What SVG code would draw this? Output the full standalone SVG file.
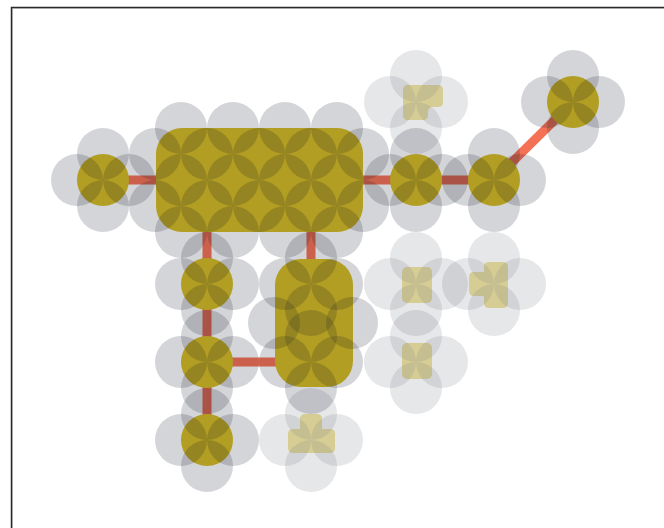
<svg xmlns="http://www.w3.org/2000/svg" width="664" height="528" viewBox="0 0 664 528">
<style>
.g{fill:#d6bc22}
.c{fill:#111827;fill-opacity:0.18}
.e{stroke:#f47155;stroke-width:9;fill:none;stroke-linecap:butt}
.faded{opacity:0.58}
.faded .g{fill-opacity:0.8}
</style>
<rect x="0" y="0" width="664" height="528" fill="#ffffff"/>
<path d="M12.5,528 V8.5 H664" fill="none" stroke="#d0d0d0" stroke-width="1"/>
<path d="M11.5,528 V7.5 H664" fill="none" stroke="#2a2a2a" stroke-width="1.5"/>
<g id="connectors">
<line class="e" x1="103" y1="180" x2="180" y2="180"/>
<line class="e" x1="337" y1="180" x2="416" y2="180"/>
<line class="e" x1="416" y1="180" x2="494" y2="180"/>
<line class="e" x1="494" y1="180" x2="573" y2="102"/>
<line class="e" x1="207" y1="206" x2="207" y2="284"/>
<line class="e" x1="311" y1="206" x2="311" y2="284"/>
<line class="e" x1="207" y1="284" x2="207" y2="362"/>
<line class="e" x1="207" y1="362" x2="207" y2="440"/>
<line class="e" x1="207" y1="362" x2="311" y2="362"/>
</g>
<g id="nodeA">
<circle class="g" cx="103" cy="180" r="26"/>
<circle class="c" cx="103" cy="154" r="26"/><circle class="c" cx="77" cy="180" r="26"/><circle class="c" cx="129" cy="180" r="26"/><circle class="c" cx="103" cy="206" r="26"/>
</g>
<g id="nodeB">
<rect class="g" x="156" y="128" width="207" height="104" rx="26"/>
<circle class="c" cx="181" cy="128" r="26"/><circle class="c" cx="233" cy="128" r="26"/><circle class="c" cx="285" cy="128" r="26"/><circle class="c" cx="337" cy="128" r="26"/>
<circle class="c" cx="155" cy="154" r="26"/><circle class="c" cx="207" cy="154" r="26"/><circle class="c" cx="259" cy="154" r="26"/><circle class="c" cx="311" cy="154" r="26"/><circle class="c" cx="363" cy="154" r="26"/>
<circle class="c" cx="181" cy="180" r="26"/><circle class="c" cx="233" cy="180" r="26"/><circle class="c" cx="285" cy="180" r="26"/><circle class="c" cx="337" cy="180" r="26"/>
<circle class="c" cx="155" cy="206" r="26"/><circle class="c" cx="207" cy="206" r="26"/><circle class="c" cx="259" cy="206" r="26"/><circle class="c" cx="311" cy="206" r="26"/><circle class="c" cx="363" cy="206" r="26"/>
<circle class="c" cx="181" cy="232" r="26"/><circle class="c" cx="233" cy="232" r="26"/><circle class="c" cx="285" cy="232" r="26"/><circle class="c" cx="337" cy="232" r="26"/>
</g>
<g id="nodeC">
<circle class="g" cx="416" cy="180" r="26"/>
<circle class="c" cx="416" cy="154" r="26"/><circle class="c" cx="390" cy="180" r="26"/><circle class="c" cx="442" cy="180" r="26"/><circle class="c" cx="416" cy="206" r="26"/>
</g>
<g id="nodeD">
<circle class="g" cx="494" cy="180" r="26"/>
<circle class="c" cx="494" cy="154" r="26"/><circle class="c" cx="468" cy="180" r="26"/><circle class="c" cx="520" cy="180" r="26"/><circle class="c" cx="494" cy="206" r="26"/>
</g>
<g id="nodeE">
<circle class="g" cx="573" cy="102" r="26"/>
<circle class="c" cx="573" cy="76" r="26"/><circle class="c" cx="547" cy="102" r="26"/><circle class="c" cx="599" cy="102" r="26"/><circle class="c" cx="573" cy="128" r="26"/>
</g>
<g id="nodeF">
<circle class="g" cx="207" cy="284" r="26"/>
<circle class="c" cx="207" cy="258" r="26"/><circle class="c" cx="181" cy="284" r="26"/><circle class="c" cx="233" cy="284" r="26"/><circle class="c" cx="207" cy="310" r="26"/>
</g>
<g id="nodeG">
<circle class="g" cx="207" cy="362" r="26"/>
<circle class="c" cx="207" cy="336" r="26"/><circle class="c" cx="181" cy="362" r="26"/><circle class="c" cx="233" cy="362" r="26"/><circle class="c" cx="207" cy="388" r="26"/>
</g>
<g id="nodeH">
<circle class="g" cx="207" cy="440" r="26"/>
<circle class="c" cx="207" cy="414" r="26"/><circle class="c" cx="181" cy="440" r="26"/><circle class="c" cx="233" cy="440" r="26"/><circle class="c" cx="207" cy="466" r="26"/>
</g>
<g id="nodeI">
<rect class="g" x="275" y="259" width="78" height="128" rx="26"/>
<circle class="c" cx="311" cy="258" r="26"/><circle class="c" cx="285" cy="284" r="26"/><circle class="c" cx="337" cy="284" r="26"/><circle class="c" cx="311" cy="310" r="26"/>
<circle class="c" cx="274" cy="323" r="26"/><circle class="c" cx="352" cy="323" r="26"/>
<circle class="c" cx="311" cy="336" r="26"/><circle class="c" cx="285" cy="362" r="26"/><circle class="c" cx="337" cy="362" r="26"/><circle class="c" cx="311" cy="388" r="26"/>
</g>
<g id="nodeJ" class="faded">
<path class="g" d="M408,85 H438 Q443,85 443,90 V102 Q443,107 438,107 H433 Q428,107 428,112 V115 Q428,120 423,120 H408 Q403,120 403,115 V90 Q403,85 408,85 Z"/>
<circle class="c" cx="416" cy="76" r="26"/><circle class="c" cx="390" cy="102" r="26"/><circle class="c" cx="442" cy="102" r="26"/><circle class="c" cx="416" cy="128" r="26"/>
</g>
<g id="nodeK" class="faded">
<rect class="g" x="402" y="267" width="30" height="36" rx="5"/>
<circle class="c" cx="416" cy="258" r="26"/><circle class="c" cx="390" cy="284" r="26"/><circle class="c" cx="442" cy="284" r="26"/><circle class="c" cx="416" cy="310" r="26"/>
</g>
<g id="nodeL" class="faded">
<path class="g" d="M489,262 H503 Q508,262 508,267 V303 Q508,308 503,308 H489 Q484,308 484,303 V296 H474 Q469,296 469,291 V277 Q469,272 474,272 H484 V267 Q484,262 489,262 Z"/>
<circle class="c" cx="494" cy="258" r="26"/><circle class="c" cx="468" cy="284" r="26"/><circle class="c" cx="520" cy="284" r="26"/><circle class="c" cx="494" cy="310" r="26"/>
</g>
<g id="nodeM" class="faded">
<rect class="g" x="402" y="343" width="30" height="36" rx="5"/>
<circle class="c" cx="416" cy="336" r="26"/><circle class="c" cx="390" cy="362" r="26"/><circle class="c" cx="442" cy="362" r="26"/><circle class="c" cx="416" cy="388" r="26"/>
</g>
<g id="nodeN" class="faded">
<path class="g" d="M305,414 H317 Q322,414 322,419 V429 H330 Q335,429 335,434 V448 Q335,453 330,453 H293 Q288,453 288,448 V434 Q288,429 293,429 H300 V419 Q300,414 305,414 Z"/>
<circle class="c" cx="311" cy="414" r="26"/><circle class="c" cx="285" cy="440" r="26"/><circle class="c" cx="337" cy="440" r="26"/><circle class="c" cx="311" cy="466" r="26"/>
</g>
</svg>
